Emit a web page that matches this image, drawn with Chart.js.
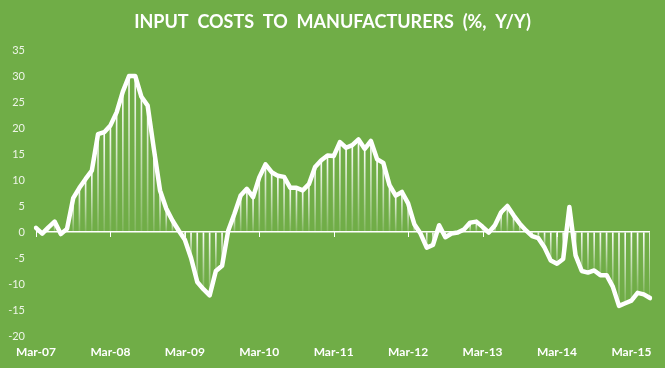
<!DOCTYPE html>
<html>
<head>
<meta charset="utf-8">
<script src="https://cdn.jsdelivr.net/npm/chart.js@4.4.1/dist/chart.umd.min.js"></script>
<style>
  html, body { margin: 0; padding: 0; background: #70AD47; }
  #wrap { width: 665px; height: 368px; position: relative; }
</style>
</head>
<body>
<div id="wrap"><canvas id="c" width="665" height="368"></canvas></div>
<script>
const titleText = 'INPUT  COSTS  TO  MANUFACTURERS  (%,  Y/Y)';

const months = [
  'Mar-07','Apr-07','May-07','Jun-07','Jul-07','Aug-07','Sep-07','Oct-07','Nov-07','Dec-07',
  'Jan-08','Feb-08','Mar-08','Apr-08','May-08','Jun-08','Jul-08','Aug-08','Sep-08','Oct-08','Nov-08','Dec-08',
  'Jan-09','Feb-09','Mar-09','Apr-09','May-09','Jun-09','Jul-09','Aug-09','Sep-09','Oct-09','Nov-09','Dec-09',
  'Jan-10','Feb-10','Mar-10','Apr-10','May-10','Jun-10','Jul-10','Aug-10','Sep-10','Oct-10','Nov-10','Dec-10',
  'Jan-11','Feb-11','Mar-11','Apr-11','May-11','Jun-11','Jul-11','Aug-11','Sep-11','Oct-11','Nov-11','Dec-11',
  'Jan-12','Feb-12','Mar-12','Apr-12','May-12','Jun-12','Jul-12','Aug-12','Sep-12','Oct-12','Nov-12','Dec-12',
  'Jan-13','Feb-13','Mar-13','Apr-13','May-13','Jun-13','Jul-13','Aug-13','Sep-13','Oct-13','Nov-13','Dec-13',
  'Jan-14','Feb-14','Mar-14','Apr-14','May-14','Jun-14','Jul-14','Aug-14','Sep-14','Oct-14','Nov-14','Dec-14',
  'Jan-15','Feb-15','Mar-15','Apr-15','May-15','Jun-15'
];

const inputCosts = [
  0.8, -0.3, 0.9, 2, -0.4, 0.6, 6.5, 8.5, 10.2, 11.8,
  18.8, 19.2, 20.5, 23, 27, 30, 30, 26, 24.3, 16,
  8, 4.5, 2.2, 0.3, -1.5, -5, -9.6, -11, -12.2, -7.5,
  -6.5, 0.3, 3.5, 7, 8.3, 6.7, 10.5, 13, 11.5, 10.8,
  10.6, 8.5, 8.5, 8, 9.2, 12.5, 13.8, 14.7, 14.6, 17.3,
  16.2, 16.7, 17.8, 16, 17.5, 14, 13.3, 9, 7, 7.7,
  5.5, 1.5, -0.3, -3, -2.5, 1.3, -1, -0.3, -0.1, 0.5,
  1.8, 2, 1, -0.1, 1.3, 3.8, 5, 3.2, 1.6, 0.3,
  -0.8, -1.2, -3, -5.5, -6.1, -5.2, 4.8, -4.5, -7.5, -7.8,
  -7.4, -8.3, -8.3, -10.5, -14.2, -13.7, -13.2, -11.7, -12, -12.7
];

const yMin = -20, yMax = 35, yStep = 5;
const labelEvery = 12;

const FONT = 'Lato, "Open Sans", "DejaVu Sans", sans-serif';

const titlePlugin = {
  id: 'customTitle',
  afterDraw(chart) {
    const ctx = chart.ctx;
    ctx.save();
    ctx.font = 'bold 18px ' + FONT;
    ctx.fillStyle = '#ffffff';
    ctx.textAlign = 'center';
    ctx.textBaseline = 'middle';
    ctx.fillText(titleText, chart.width / 2, 22);
    ctx.restore();
  }
};

const tickMarks = {
  id: 'zeroTickMarks',
  afterDatasetsDraw(chart) {
    const {ctx, scales} = chart;
    const y0 = scales.y.getPixelForValue(0);
    ctx.save();
    ctx.strokeStyle = '#ffffff';
    ctx.lineWidth = 1;
    for (let i = 0; i < months.length; i += labelEvery) {
      const x = Math.round(scales.x.getPixelForValue(i)) + 0.5;
      ctx.beginPath();
      ctx.moveTo(x, y0);
      ctx.lineTo(x, y0 + 5);
      ctx.stroke();
    }
    ctx.restore();
  }
};

function dropGradient(c) {
  const chart = c.chart;
  const {ctx, chartArea, scales} = chart;
  if (!chartArea) return 'rgba(255,255,255,0.6)';
  const v = c.raw;
  const y0 = scales.y.getPixelForValue(0);
  const yv = scales.y.getPixelForValue(v);
  const top = Math.min(y0, yv), bot = Math.max(y0, yv);
  if (bot - top < 1) return 'rgba(255,255,255,0.4)';
  const g = ctx.createLinearGradient(0, top, 0, bot);
  g.addColorStop(0, 'rgba(255,255,255,1)');
  g.addColorStop(1, 'rgba(255,255,255,0.12)');
  return g;
}

new Chart(document.getElementById('c'), {
  type: 'line',
  data: {
    labels: months,
    datasets: [
      {
        type: 'line',
        data: inputCosts,
        borderColor: '#ffffff',
        borderWidth: 4.5,
        pointRadius: 0,
        tension: 0,
        borderJoinStyle: 'round',
        borderCapStyle: 'round',
        order: 0
      },
      {
        type: 'bar',
        data: inputCosts,
        backgroundColor: dropGradient,
        barThickness: 1,
        order: 1
      }
    ]
  },
  options: {
    responsive: false,
    animation: false,
    layout: { padding: { top: 50, right: 15, bottom: 9, left: 0 } },
    plugins: { legend: { display: false }, tooltip: { enabled: false }, title: { display: false } },
    scales: {
      x: {
        type: 'category',
        offset: false,
        grid: { display: false, drawTicks: false, tickLength: 0 },
        border: { display: false },
        afterFit(scale) { scale.height = 23; },
        ticks: {
          autoSkip: false,
          maxRotation: 0,
          padding: 9,
          color: '#ffffff',
          font: { family: FONT, size: 12, weight: 'bold' },
          callback: function(val, idx) { return idx % labelEvery === 0 ? months[idx] : null; }
        }
      },
      y: {
        min: yMin,
        max: yMax,
        afterFit(scale) { scale.width = 36; },
        border: { display: false },
        grid: {
          drawTicks: false,
          color: (c) => (c.tick && c.tick.value === 0 ? '#ffffff' : 'rgba(0,0,0,0)'),
          lineWidth: 1.5
        },
        ticks: {
          stepSize: yStep,
          padding: 11,
          color: '#eef5e8',
          font: { family: FONT, size: 11 }
        }
      }
    }
  },
  plugins: [titlePlugin, tickMarks]
});
</script>
</body>
</html>
